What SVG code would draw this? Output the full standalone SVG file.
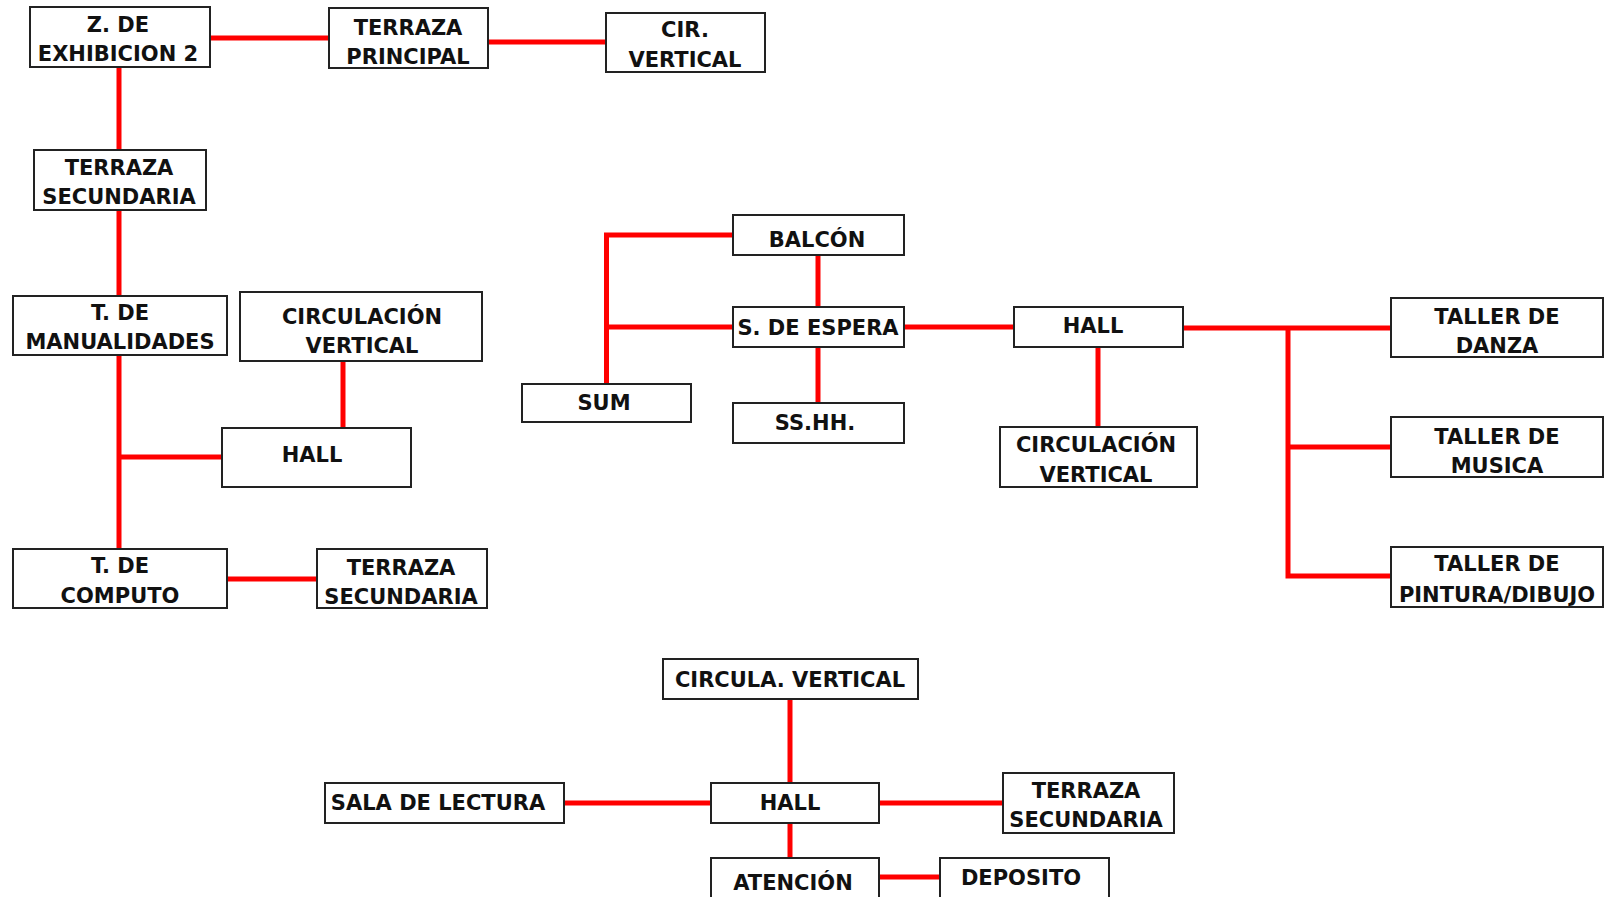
<svg xmlns="http://www.w3.org/2000/svg" width="1606" height="897" viewBox="0 0 1606 897">
<style>
.box{fill:#fff;stroke:#222;stroke-width:2}
.t{font-family:"DejaVu Sans",sans-serif;font-weight:bold;font-size:21px;fill:#111;text-anchor:middle}
.c{stroke:#ff0000;stroke-width:5;fill:none;stroke-linecap:butt}
</style>
<rect width="1606" height="897" fill="#fff"/>
<g id="connectors">
<path class="c" d="M210 38H329"/>
<path class="c" d="M488 42H606"/>
<path class="c" d="M119 67V150"/>
<path class="c" d="M119 210V296"/>
<path class="c" d="M343 361V428"/>
<path class="c" d="M119 355V549"/>
<path class="c" d="M119 457H222"/>
<path class="c" d="M227 579H317"/>
<path class="c" d="M733 235H606.5V387"/>
<path class="c" d="M606.5 327H733"/>
<path class="c" d="M818 255V307"/>
<path class="c" d="M818 347V403"/>
<path class="c" d="M904 327H1014"/>
<path class="c" d="M1098 347V427"/>
<path class="c" d="M1183 328H1391"/>
<path class="c" d="M1288 328V576H1391"/>
<path class="c" d="M1288 447H1391"/>
<path class="c" d="M790 699V783"/>
<path class="c" d="M564 803H711"/>
<path class="c" d="M879 803H1003"/>
<path class="c" d="M790 823V858"/>
<path class="c" d="M879 877H940"/>
</g>
<g id="n_zexh"><rect class="box" x="30" y="7" width="180" height="60"/><text class="t" x="118" y="32">Z. DE</text><text class="t" x="118" y="61">EXHIBICION 2</text></g>
<g id="n_tprin"><rect class="box" x="329" y="8" width="159" height="60"/><text class="t" x="408" y="35">TERRAZA</text><text class="t" x="408" y="64">PRINCIPAL</text></g>
<g id="n_cirv"><rect class="box" x="606" y="13" width="159" height="59"/><text class="t" x="685" y="37">CIR.</text><text class="t" x="685" y="67">VERTICAL</text></g>
<g id="n_tsec1"><rect class="box" x="34" y="150" width="172" height="60"/><text class="t" x="119" y="175">TERRAZA</text><text class="t" x="119" y="204">SECUNDARIA</text></g>
<g id="n_tman"><rect class="box" x="13" y="296" width="214" height="59"/><text class="t" x="120" y="320">T. DE</text><text class="t" x="120" y="349">MANUALIDADES</text></g>
<g id="n_circv1"><rect class="box" x="240" y="292" width="242" height="69"/><text class="t" x="362" y="324">CIRCULACIÓN</text><text class="t" x="362" y="353">VERTICAL</text></g>
<g id="n_hall1"><rect class="box" x="222" y="428" width="189" height="59"/><text class="t" x="312" y="462">HALL</text></g>
<g id="n_tcomp"><rect class="box" x="13" y="549" width="214" height="59"/><text class="t" x="120" y="573">T. DE</text><text class="t" x="120" y="603">COMPUTO</text></g>
<g id="n_tsec2"><rect class="box" x="317" y="549" width="170" height="59"/><text class="t" x="401" y="575">TERRAZA</text><text class="t" x="401" y="604">SECUNDARIA</text></g>
<g id="n_balcon"><rect class="box" x="733" y="215" width="171" height="40"/><text class="t" x="817" y="247">BALCÓN</text></g>
<g id="n_espera"><rect class="box" x="733" y="307" width="171" height="40"/><text class="t" x="818" y="335">S. DE ESPERA</text></g>
<g id="n_sshh"><rect class="box" x="733" y="403" width="171" height="40"/><text class="t" x="815" y="430">SS.HH.</text></g>
<g id="n_sum"><rect class="box" x="522" y="384" width="169" height="38"/><text class="t" x="604" y="410">SUM</text></g>
<g id="n_hall2"><rect class="box" x="1014" y="307" width="169" height="40"/><text class="t" x="1093" y="333">HALL</text></g>
<g id="n_circv2"><rect class="box" x="1000" y="427" width="197" height="60"/><text class="t" x="1096" y="452">CIRCULACIÓN</text><text class="t" x="1096" y="482">VERTICAL</text></g>
<g id="n_danza"><rect class="box" x="1391" y="298" width="212" height="59"/><text class="t" x="1497" y="324">TALLER DE</text><text class="t" x="1497" y="353">DANZA</text></g>
<g id="n_musica"><rect class="box" x="1391" y="417" width="212" height="60"/><text class="t" x="1497" y="444">TALLER DE</text><text class="t" x="1497" y="473">MUSICA</text></g>
<g id="n_pintura"><rect class="box" x="1391" y="547" width="212" height="60"/><text class="t" x="1497" y="571">TALLER DE</text><text class="t" x="1497" y="602">PINTURA/DIBUJO</text></g>
<g id="n_circv3"><rect class="box" x="663" y="659" width="255" height="40"/><text class="t" x="790" y="687">CIRCULA. VERTICAL</text></g>
<g id="n_hall3"><rect class="box" x="711" y="783" width="168" height="40"/><text class="t" x="790" y="810">HALL</text></g>
<g id="n_sala"><rect class="box" x="325" y="783" width="239" height="40"/><text class="t" x="438" y="810">SALA DE LECTURA</text></g>
<g id="n_tsec3"><rect class="box" x="1003" y="773" width="171" height="60"/><text class="t" x="1086" y="798">TERRAZA</text><text class="t" x="1086" y="827">SECUNDARIA</text></g>
<g id="n_atencion"><rect class="box" x="711" y="858" width="168" height="45"/><text class="t" x="793" y="890">ATENCIÓN</text></g>
<g id="n_deposito"><rect class="box" x="940" y="858" width="169" height="45"/><text class="t" x="1021" y="885">DEPOSITO</text></g>
</svg>
